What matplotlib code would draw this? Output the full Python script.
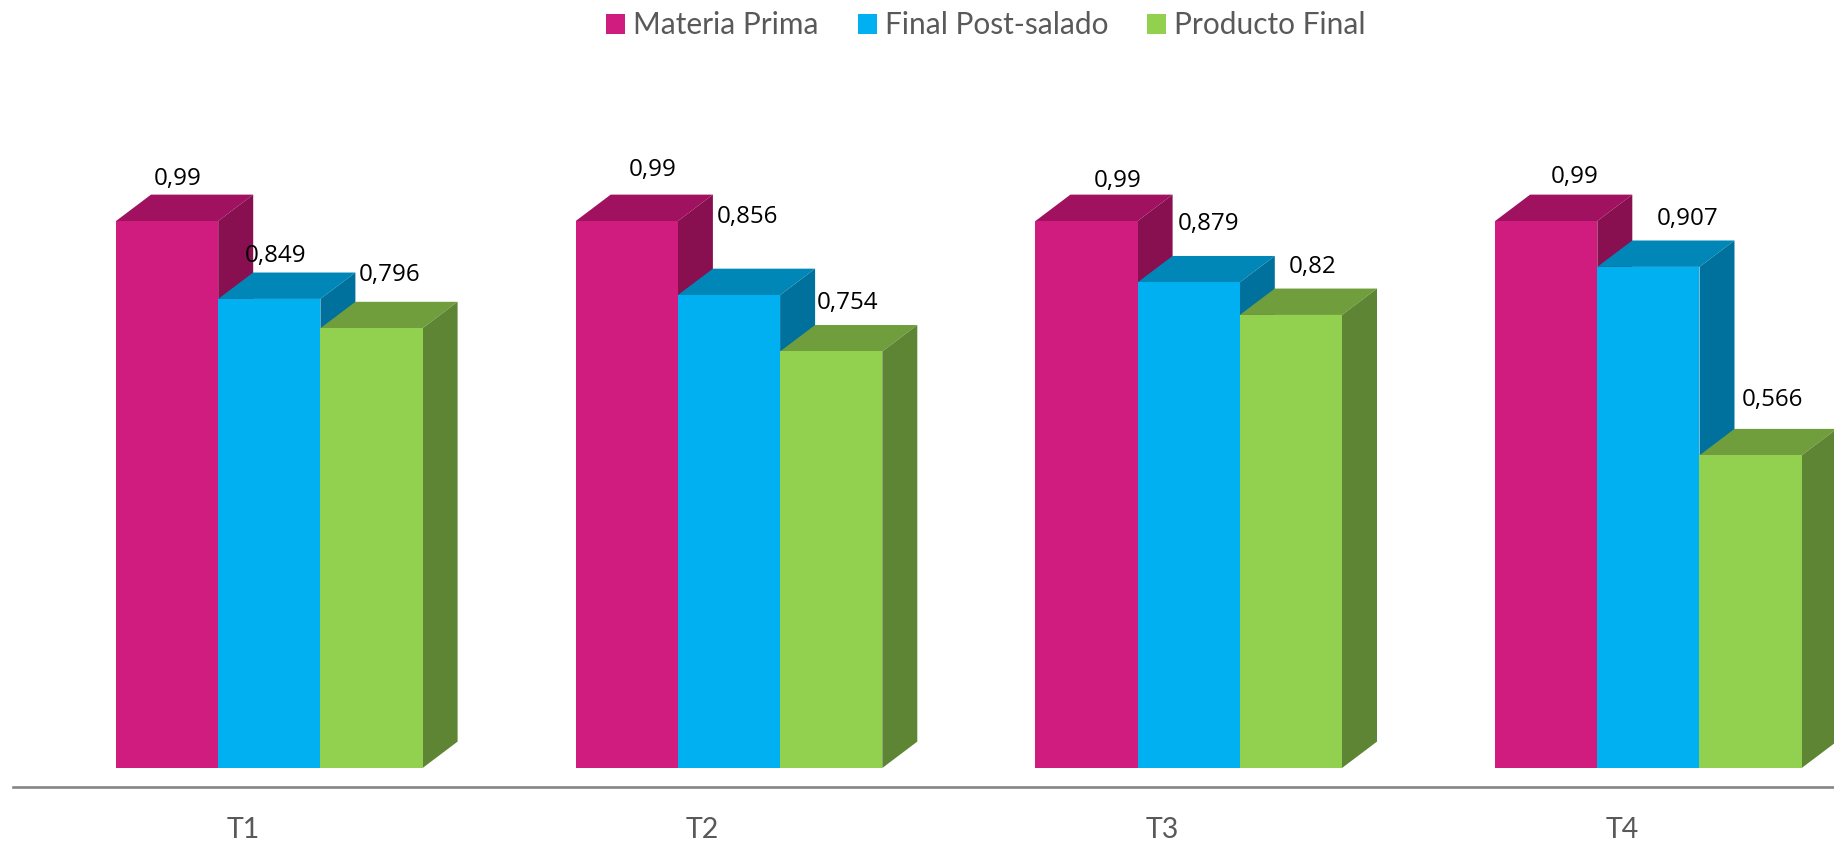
import matplotlib
matplotlib.use('Agg')
import matplotlib.pyplot as plt
from matplotlib.patches import Polygon, Patch
import numpy as np

categories = ['T1', 'T2', 'T3', 'T4']
series_names = ['Materia Prima', 'Final Post-salado', 'Producto Final']
materia_prima = [0.99, 0.99, 0.99, 0.99]
post_salado = [0.849, 0.856, 0.879, 0.907]
producto_final = [0.796, 0.754, 0.82, 0.566]
value_labels = [['0,99', '0,99', '0,99', '0,99'],
                ['0,849', '0,856', '0,879', '0,907'],
                ['0,796', '0,754', '0,82', '0,566']]

front_colors = ['#D01C7F', '#00B0F0', '#92D050']
top_colors = ['#A0115F', '#0087B8', '#709E3D']
side_colors = ['#880F50', '#00719C', '#5E8534']

# label shift from the top centre of each bar, in pixels (one row per series)
label_offsets = [[(11, 42), (26, 51), (31, 40), (28, 44)],
                 [(6, 43), (18, 78), (20, 58), (39, 48)],
                 [(18, 53), (16, 48), (22, 48), (22, 55)]]

W, H = 1834, 842
px_x = 459.7      # pixels per category
px_y = 552.5      # pixels per unit of value
bar_w = 102.2 / px_x
group_left = -127 / px_x
depth_x = 35 / px_x
depth_y = 26.4 / px_y

fig = plt.figure(figsize=(W / 100, H / 100), dpi=100)
ax = fig.add_axes([13 / W, 55 / H, (W - 13) / W, (H - 55) / H])
ax.set_xlim((13 - 243) / px_x, (W - 243) / px_x)
ax.set_ylim(-19 / px_y, 768 / px_y)

series = [materia_prima, post_salado, producto_final]
for i in range(4):
    for s in range(3):
        left = i + group_left + s * bar_w
        right = left + bar_w
        v = series[s][i]
        z = 2 + i * 3 + s
        ax.bar(left, v, bar_w, align='edge', color=front_colors[s], zorder=z + 0.2)
        ax.add_patch(Polygon([(left, v), (right, v), (right + depth_x, v + depth_y),
                              (left + depth_x, v + depth_y)],
                             closed=True, color=top_colors[s], lw=0, zorder=z))
        ax.add_patch(Polygon([(right, 0), (right + depth_x, depth_y),
                              (right + depth_x, v + depth_y), (right, v)],
                             closed=True, color=side_colors[s], lw=0, zorder=z))
        ax.annotate(value_labels[s][i], (left + bar_w / 2, v),
                    xytext=label_offsets[s][i], textcoords='offset pixels',
                    ha='center', va='center', fontsize=17.4, family='Open Sans',
                    color='black', zorder=50, annotation_clip=False)

ax.set_xticks(np.arange(4))
ax.set_xticklabels(categories, family='Lato', fontsize=20.5, color='#595959')
ax.tick_params(axis='x', length=0, pad=21.5)
ax.set_yticks([])
for side in ['top', 'left', 'right']:
    ax.spines[side].set_visible(False)
ax.spines['bottom'].set_color('#868686')
ax.spines['bottom'].set_linewidth(1.9)

handles = [Patch(color=c, lw=0) for c in front_colors]
fig.legend(handles, series_names, loc='upper center', bbox_to_anchor=(986 / W, 1.0),
           ncol=3, frameon=False, prop={'family': 'Lato', 'size': 21.5},
           labelcolor='#595959', handlelength=0.64, handleheight=0.64,
           handletextpad=0.27, columnspacing=1.3, borderaxespad=0, borderpad=0.38)

fig.savefig('out.png', dpi=100, facecolor='white')
